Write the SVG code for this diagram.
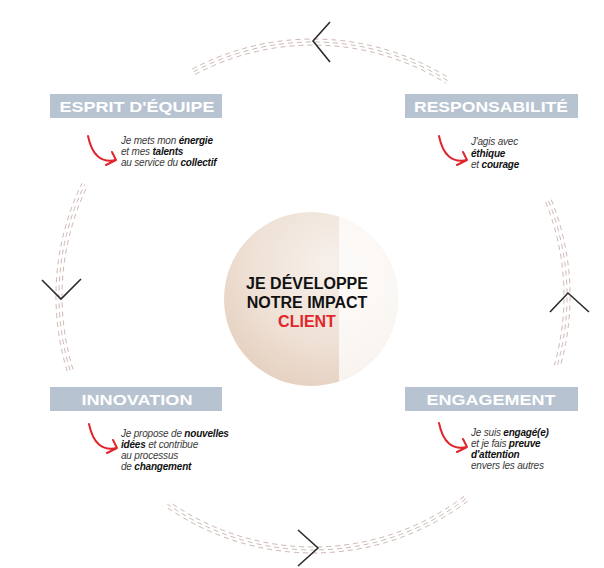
<svg xmlns="http://www.w3.org/2000/svg" width="604" height="568" viewBox="0 0 604 568">
<defs>
<radialGradient id="g" cx="0.6" cy="0.3" r="0.85">
<stop offset="0" stop-color="#f7f0eb"/>
<stop offset="0.55" stop-color="#eee0d4"/>
<stop offset="1" stop-color="#e2cab8"/>
</radialGradient>
<clipPath id="cc"><circle cx="311" cy="299" r="87"/></clipPath>
</defs>
<style>
.dash{fill:none;stroke:#cdb7b1;stroke-width:1;stroke-dasharray:5 4}
.chev{fill:none;stroke:#2b2b2b;stroke-width:1.6}
.box{fill:#b7c3d1}
.lbl{font-family:"Liberation Sans",Arial,sans-serif;font-weight:bold;font-size:15px;fill:#ffffff;text-anchor:middle}
.red{fill:none;stroke:#e0262c;stroke-width:2;stroke-linecap:round;stroke-linejoin:round}
.body{font-family:"Liberation Sans",Arial,sans-serif;font-style:italic;font-size:10px;letter-spacing:-0.2px;fill:#3a3a3a}
.b{font-weight:bold;fill:#111111}
.ctr{font-family:"Liberation Sans",Arial,sans-serif;font-weight:bold;font-size:16px;text-anchor:middle;fill:#111111}
</style>
<rect width="604" height="568" fill="#ffffff"/>

<g id="connectors">
<g id="arc-top">
<path class="dash" d="M195.2,74.4 A251,251 0 0 1 446,83.2"/>
<path class="dash" d="M193.7,71.7 A254,254 0 0 1 447.6,80.6"/>
<path class="dash" d="M192.3,69.1 A257,257 0 0 1 449.2,78.1"/>
<path class="chev" d="M330,22 L313,41 L330,62"/>
</g>
<g id="arc-right">
<path class="dash" d="M545.7,202 A251,251 0 0 1 554.3,365.2"/>
<path class="dash" d="M548.5,200.9 A254,254 0 0 1 557.2,366"/>
<path class="dash" d="M551.3,199.7 A257,257 0 0 1 560.1,366.8"/>
<path class="chev" d="M550,312 L568,293 L589,312"/>
</g>
<g id="arc-bottom">
<path class="dash" d="M464.1,496.4 A251,251 0 0 1 169,501.6"/>
<path class="dash" d="M465.9,498.8 A254,254 0 0 1 167.3,504.1"/>
<path class="dash" d="M467.7,501.2 A257,257 0 0 1 165.6,506.5"/>
<path class="chev" d="M298,530 L318,548 L298,566"/>
</g>
<g id="arc-left">
<path class="dash" d="M73,369.4 A251,251 0 0 1 87.4,186"/>
<path class="dash" d="M70.1,370.3 A254,254 0 0 1 84.7,184.6"/>
<path class="dash" d="M67.2,371.1 A257,257 0 0 1 82,183.3"/>
<path class="chev" d="M42,280 L61,299 L81,279"/>
</g>
</g>

<g id="node-center">
<circle cx="311" cy="299" r="87" fill="url(#g)"/>
<rect x="339" y="205" width="70" height="190" fill="#ffffff" opacity="0.72" clip-path="url(#cc)"/>
<text class="ctr" x="307" y="289">JE DÉVELOPPE</text>
<text class="ctr" x="307" y="308">NOTRE IMPACT</text>
<text class="ctr" x="307" y="327" style="fill:#e0262c">CLIENT</text>
</g>

<g id="node-esprit">
<rect class="box" x="50" y="94" width="172" height="24"/>
<text class="lbl" x="137" y="112" textLength="155" lengthAdjust="spacingAndGlyphs">ESPRIT D'ÉQUIPE</text>
<path class="red" transform="translate(88,136)" d="M0,0 Q6,29 28,24 M24,16 L28,24 L18,29"/>
<text class="body" x="121" y="144">Je mets mon <tspan class="b">énergie</tspan></text>
<text class="body" x="121" y="155">et mes <tspan class="b">talents</tspan></text>
<text class="body" x="121" y="166">au service du <tspan class="b">collectif</tspan></text>
</g>

<g id="node-responsabilite">
<rect class="box" x="405" y="94" width="173" height="24"/>
<text class="lbl" x="491" y="112" textLength="154" lengthAdjust="spacingAndGlyphs">RESPONSABILITÉ</text>
<path class="red" transform="translate(439,136)" d="M0,0 Q6,29 28,24 M24,16 L28,24 L18,29"/>
<text class="body" x="471" y="145">J'agis avec</text>
<text class="body b" x="471" y="156.5">éthique</text>
<text class="body" x="471" y="168">et <tspan class="b">courage</tspan></text>
</g>

<g id="node-innovation">
<rect class="box" x="50" y="387" width="172" height="24"/>
<text class="lbl" x="137" y="405" textLength="111" lengthAdjust="spacingAndGlyphs">INNOVATION</text>
<path class="red" transform="translate(89,424)" d="M0,0 Q6,29 28,24 M24,16 L28,24 L18,29"/>
<text class="body" x="121" y="437">Je propose de <tspan class="b">nouvelles</tspan></text>
<text class="body" x="121" y="448"><tspan class="b">idées</tspan> et contribue</text>
<text class="body" x="121" y="459">au processus</text>
<text class="body" x="121" y="470">de <tspan class="b">changement</tspan></text>
</g>

<g id="node-engagement">
<rect class="box" x="405" y="387" width="173" height="24"/>
<text class="lbl" x="491" y="405" textLength="129" lengthAdjust="spacingAndGlyphs">ENGAGEMENT</text>
<path class="red" transform="translate(439,423)" d="M0,0 Q6,29 28,24 M24,16 L28,24 L18,29"/>
<text class="body" x="471" y="436">Je suis <tspan class="b">engagé(e)</tspan></text>
<text class="body" x="471" y="447">et je fais <tspan class="b">preuve</tspan></text>
<text class="body b" x="471" y="458">d'attention</text>
<text class="body" x="471" y="469">envers les autres</text>
</g>
</svg>
